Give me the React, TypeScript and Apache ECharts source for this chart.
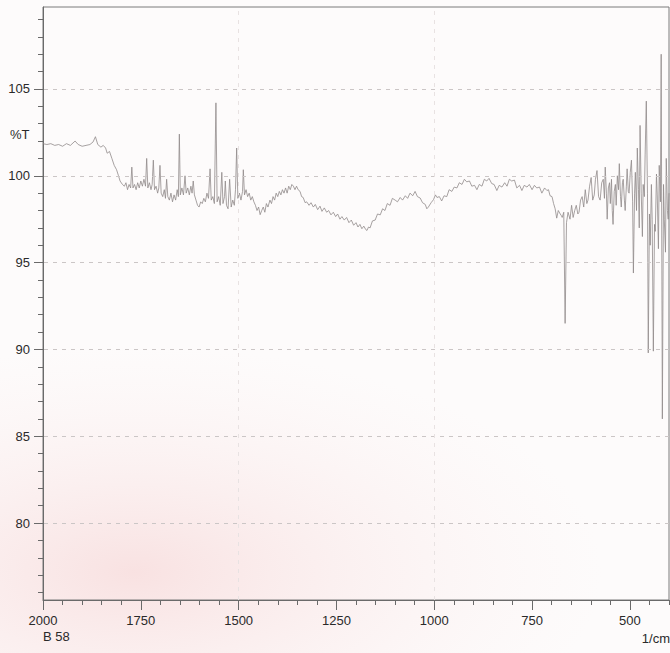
import React, { useEffect, useRef } from "react";
import * as echarts from "echarts";

// ---- data (wavenumber in 1/cm, transmittance in %T) ----
const flatWn = [2000, 1990, 1980, 1970, 1960, 1950, 1940, 1930, 1918, 1910, 1900, 1890, 1880, 1872, 1866, 1860, 1852, 1846];
const flatT = [101.85, 101.8, 101.85, 101.75, 101.8, 101.7, 101.85, 101.75, 102.0, 101.8, 101.7, 101.75, 101.8, 101.95, 102.25, 101.8, 101.65, 101.75];

const shoulderWn = [1840, 1836, 1830, 1824, 1818, 1812, 1807, 1803, 1797, 1792];
const shoulderT = [101.6, 101.3, 101.4, 101.0, 100.6, 100.35, 100.0, 99.7, 99.5, 99.4];

const spikyWn = [1788, 1784, 1780, 1776, 1773, 1770, 1766, 1762, 1758, 1754, 1750, 1746, 1742, 1738, 1735, 1732, 1728, 1724, 1721, 1718, 1715, 1711, 1707, 1704, 1701, 1698, 1694, 1690, 1687, 1684, 1681, 1677, 1673, 1669, 1665, 1661, 1657, 1654, 1651.5, 1649, 1645, 1641, 1637, 1634, 1630, 1626, 1622, 1619, 1616, 1613, 1609, 1605, 1601, 1597, 1593, 1589, 1585, 1581, 1577, 1573, 1570, 1566, 1562, 1558, 1555, 1551, 1547, 1543, 1540, 1536, 1534, 1531, 1527, 1523, 1519, 1515, 1511, 1508, 1505, 1502, 1498, 1494, 1490, 1488, 1485, 1481, 1477, 1473, 1469, 1465, 1461, 1457, 1453, 1449, 1445, 1441, 1437, 1433, 1429, 1425, 1420, 1416, 1412, 1408, 1404, 1400, 1396, 1392, 1388, 1384, 1380, 1376, 1372, 1368, 1364, 1360, 1356, 1352, 1348];
const spikyT = [99.6, 99.2, 99.5, 99.3, 100.5, 99.3, 99.5, 99.2, 99.6, 99.3, 99.7, 99.4, 99.8, 99.4, 101.0, 99.3, 99.6, 99.2, 99.5, 100.9, 99.2, 99.4, 99.0, 99.3, 100.6, 99.0, 98.8, 99.2, 98.7, 99.8, 98.8, 98.6, 99.0, 98.5, 98.9, 98.6, 99.2, 98.8, 102.4, 98.9, 99.3, 98.9, 100.0, 99.0, 99.3, 98.9, 99.4, 99.0, 99.7, 98.9, 98.6, 98.3, 98.2, 98.5, 98.4, 98.7, 98.5, 99.0, 98.7, 100.4, 98.6, 98.8, 98.4, 104.2, 98.5, 98.8, 98.3, 100.2, 98.4, 98.8, 99.7, 98.3, 98.1, 99.8, 98.2, 98.6, 98.3, 99.2, 101.6, 98.7, 99.0, 98.6, 99.1, 100.35, 98.9, 99.2, 98.8, 99.0, 98.6, 98.8, 98.5, 98.3, 98.0, 98.2, 97.76, 98.0, 98.2, 97.9, 98.4, 98.2, 98.6, 98.4, 98.8, 98.6, 99.0, 98.8, 99.1, 98.9, 99.2, 99.0, 99.3, 99.0, 99.4, 99.2, 99.5, 99.4, 99.2, 99.4, 99.2];

const broadWn = [1343, 1339, 1335, 1330, 1326, 1320, 1315, 1309, 1304, 1298, 1292, 1287, 1281, 1275, 1270, 1264, 1258, 1252, 1247, 1241, 1236, 1230, 1224, 1218, 1212, 1206, 1200, 1195, 1190, 1185, 1180, 1175, 1172, 1168, 1164, 1158, 1151, 1145, 1138, 1132, 1126, 1120, 1113, 1107, 1100, 1094, 1087, 1081, 1074, 1068, 1062, 1055, 1049, 1043, 1036, 1030, 1023, 1019, 1015, 1008, 1002, 997, 993, 987, 981, 975, 968, 962, 955, 949, 942, 936, 929, 923, 917, 910, 904, 897, 891, 885, 878, 872, 866, 860, 853, 847, 840, 834, 827, 820, 814, 808, 802, 795, 789, 782, 776, 770, 763, 757, 750, 744, 738, 731, 725, 718, 712, 708, 704, 699, 695, 691, 687, 683, 678, 675];
const broadT = [99.1, 98.8, 98.75, 98.45, 98.5, 98.3, 98.45, 98.2, 98.35, 98.05, 98.25, 97.95, 98.15, 97.9, 98.0, 97.75, 97.9, 97.65, 97.8, 97.5, 97.65, 97.45, 97.6, 97.3, 97.45, 97.15, 97.3, 97.05, 97.2, 96.95, 97.1, 96.9, 96.85, 97.05, 97.0, 97.4, 97.45, 97.8, 97.75, 98.1, 98.0, 98.4, 98.3, 98.7, 98.6, 98.5, 98.75, 98.6, 98.85, 98.7, 99.0, 98.85, 99.1, 98.8, 98.72, 98.45, 98.35, 98.1, 98.2, 98.45, 98.62, 98.9, 98.75, 98.8, 98.55, 98.85, 98.8, 99.2, 99.1, 99.35, 99.3, 99.6, 99.5, 99.8, 99.65, 99.7, 99.4, 99.45, 99.2, 99.5, 99.4, 99.8, 99.7, 99.85, 99.55, 99.5, 99.15, 99.45, 99.35, 99.6, 99.4, 99.8, 99.7, 99.75, 99.3, 99.45, 99.15, 99.45, 99.35, 99.5, 99.2, 99.45, 99.3, 99.35, 99.0, 99.3, 99.15, 99.2, 98.85, 98.8, 98.4, 98.1, 97.56, 98.0, 97.8, 97.7];

const lowWn = [673, 669, 665.5, 662, 658, 653, 649, 645, 641, 637, 633, 630, 626, 622, 618, 614, 610, 607, 603, 599, 595, 591, 588, 584, 580, 576, 572, 568, 565, 563, 560, 558, 555, 552, 550, 547, 545, 543, 540, 537, 535, 532, 529, 527, 524, 522, 519, 517, 514, 512, 509, 507, 504, 502, 499, 496, 493, 491, 488, 486, 483, 481, 478, 476, 474, 471, 468, 466, 463, 461, 458, 455, 453, 450, 448, 445, 443, 440, 437, 435, 432, 430, 427, 425, 422, 420, 417, 414, 412, 409, 407, 404, 402, 400];
const lowT = [97.6, 97.9, 91.5, 97.3, 97.9, 97.5, 98.3, 97.6, 98.0, 98.3, 97.8, 97.9, 98.6, 98.8, 98.2, 99.2, 98.4, 98.6, 99.4, 99.9, 98.6, 98.9, 99.8, 100.3, 98.8, 98.6, 99.6, 99.8, 98.7, 100.5, 99.0, 97.5, 99.3, 99.6, 98.4, 99.8, 98.0, 97.2, 99.1, 99.5, 98.3, 100.0, 99.2, 100.7, 98.8, 98.2, 99.6, 99.8, 98.6, 98.0, 99.4, 100.4, 99.1, 99.0, 100.2, 100.9, 98.5, 94.4, 99.0, 100.2, 98.0, 101.6, 99.2, 97.0, 102.9, 99.0, 96.5, 99.5, 98.8, 101.2, 104.3, 99.0, 89.8, 97.8, 96.0, 99.5, 97.5, 89.9, 97.2, 96.8, 100.1, 98.9, 95.8, 100.6, 98.5, 107.0, 86.0, 99.5, 97.5, 95.6, 101.0, 98.0, 97.5, 99.0];

const xMajorTicks = [2000, 1750, 1500, 1250, 1000, 750, 500];
const yMajorTicks = [80, 85, 90, 95, 100, 105];
const yMinorTicks = [76, 77, 78, 79, 80, 81, 82, 83, 84, 85, 86, 87, 88, 89, 90, 91, 92, 93, 94, 95, 96, 97, 98, 99, 100, 101, 102, 103, 104, 105, 106, 107, 108, 109];
const hGridValues = [80, 85, 90, 95, 100, 105];
const vGridValues = [1500, 1000];

const FONT = "'Liberation Sans Narrow', 'Liberation Sans', Arial, sans-serif";

export default function App() {
  const ref = useRef<HTMLDivElement>(null);

  useEffect(() => {
    if (!ref.current) return;
    const chart = echarts.init(ref.current, null, { renderer: "svg" });

    const wn = [...flatWn, ...shoulderWn, ...spikyWn, ...broadWn, ...lowWn];
    const tr = [...flatT, ...shoulderT, ...spikyT, ...broadT, ...lowT];
    const data = wn.map((w, i) => [w, tr[i]]);

    const yMin = 75.57;
    const yMax = 109.72;

    chart.setOption({
      animation: false,
      backgroundColor: "#fdfbfb",
      graphic: [
        {
          type: "rect",
          z: -10,
          silent: true,
          shape: { x: 0, y: 330, width: 670, height: 323 },
          style: {
            fill: {
              type: "radial",
              x: 0.2,
              y: 0.75,
              r: 0.7,
              colorStops: [
                { offset: 0, color: "rgba(244,200,200,0.5)" },
                { offset: 1, color: "rgba(250,230,230,0)" },
              ],
            },
          },
        },
        {
          type: "text",
          left: 10,
          top: 128,
          style: { text: "%T", fill: "#2a2a2a", font: `13px ${FONT}` },
        },
        {
          type: "text",
          left: 43,
          top: 630,
          style: { text: "B 58", fill: "#2a2a2a", font: `13px ${FONT}` },
        },
        {
          type: "text",
          right: 0,
          top: 632,
          style: { text: "1/cm", fill: "#2a2a2a", font: `13px ${FONT}` },
        },
      ],
      grid: {
        left: 43,
        right: 1,
        top: 7,
        bottom: 53,
        containLabel: false,
        outerBoundsMode: "none",
        show: true,
        borderColor: "#7a7a7a",
        borderWidth: 1,
        backgroundColor: "transparent",
      },
      xAxis: [
        {
          type: "value",
          min: 400,
          max: 2000,
          inverse: true,
          position: "bottom",
          axisLine: { show: true, lineStyle: { color: "#6a6a6a", width: 1 } },
          axisTick: { show: true, customValues: xMajorTicks, length: 10, lineStyle: { color: "#6a6a6a" } },
          axisLabel: {
            show: true,
            customValues: xMajorTicks,
            formatter: (v: number) => String(v),
            margin: 14,
            color: "#2a2a2a",
            fontSize: 13,
            fontFamily: FONT,
          },
          splitLine: { show: false },
        },
        {
          type: "value",
          min: 400,
          max: 2000,
          interval: 50,
          inverse: true,
          position: "bottom",
          axisLine: { show: false },
          axisTick: { show: true, length: 5, lineStyle: { color: "#6a6a6a" } },
          axisLabel: { show: false },
          splitLine: { show: false },
        },
      ],
      yAxis: [
        {
          type: "value",
          min: yMin,
          max: yMax,
          position: "left",
          axisLine: { show: true, lineStyle: { color: "#6a6a6a", width: 1 } },
          axisTick: { show: true, customValues: yMajorTicks, length: 9, lineStyle: { color: "#6a6a6a" } },
          axisLabel: {
            show: true,
            customValues: yMajorTicks,
            formatter: (v: number) => String(v),
            margin: 13,
            color: "#2a2a2a",
            fontSize: 13,
            fontFamily: FONT,
          },
          splitLine: { show: false },
        },
        {
          type: "value",
          min: yMin,
          max: yMax,
          position: "left",
          axisLine: { show: false },
          axisTick: { show: true, customValues: yMinorTicks, length: 5, lineStyle: { color: "#6a6a6a" } },
          axisLabel: { show: false },
          splitLine: { show: false },
        },
      ],
      series: [
        {
          type: "line",
          xAxisIndex: 0,
          yAxisIndex: 0,
          data,
          symbol: "none",
          showSymbol: false,
          lineStyle: { color: "#918a8a", width: 0.8 },
          emphasis: { disabled: true },
          markLine: {
            silent: true,
            symbol: ["none", "none"],
            label: { show: false },
            lineStyle: { color: "#cbc6c6", type: [4, 5], width: 1 },
            emphasis: { disabled: true },
            data: [
              ...hGridValues.map((v) => ({ yAxis: v })),
              ...vGridValues.map((v) => ({ xAxis: v, lineStyle: { color: "#e8e2e2", type: [4, 5], width: 1 } })),
            ],
          },
        },
      ],
    });

    return () => chart.dispose();
  }, []);

  return (
    <div
      ref={ref}
      style={{ position: "absolute", left: 0, top: 0, width: 670, height: 653 }}
    />
  );
}
